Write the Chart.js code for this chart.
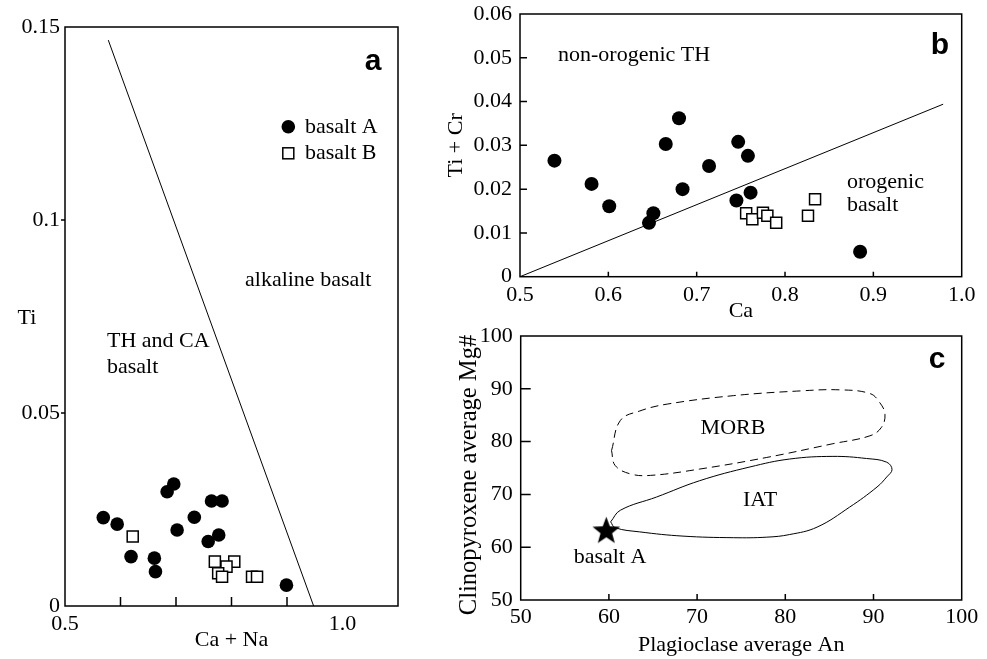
<!DOCTYPE html>
<html><head><meta charset="utf-8">
<script src="https://cdn.jsdelivr.net/npm/chart.js@4.4.1/dist/chart.umd.min.js"></script>
<style>
html,body{margin:0;padding:0;background:#fff;}
#wrap{position:relative;width:987px;height:659px;overflow:hidden;background:#fff;}
canvas{position:absolute;}
</style></head><body>
<div id="wrap">
<canvas id="ca" width="430" height="659" style="left:0;top:0"></canvas>
<canvas id="cb" width="557" height="330" style="left:430px;top:0"></canvas>
<canvas id="cc" width="557" height="339" style="left:430px;top:320px"></canvas>
</div>
<script>
// ---------- Panel a: Ti vs Ca + Na ----------
const aBasaltA_caNa = [0.569,0.594,0.619,0.661,0.663,0.684,0.696,0.702,0.733,0.764,0.783,0.758,0.777,0.899];
const aBasaltA_ti   = [0.0229,0.0212,0.0128,0.0124,0.0089,0.0296,0.0316,0.0197,0.0230,0.0272,0.0272,0.0167,0.0184,0.0054];
const aBasaltB_caNa = [0.622,0.770,0.805,0.791,0.776,0.783,0.837,0.846];
const aBasaltB_ti   = [0.0180,0.0115,0.0115,0.0102,0.0085,0.0076,0.0076,0.0076];
const aBoundary_x = [0.578,0.948];
const aBoundary_y = [0.1466,0];
const aXTicks = [0.5,0.6,0.7,0.8,0.9,1.0,1.1];
const aXLabels = {"0.5":"0.5","1.0":"1.0"};
const aYTicks = [0,0.05,0.1,0.15];

// ---------- Panel b: Ti + Cr vs Ca ----------
const bBasaltA_ca   = [0.539,0.581,0.601,0.646,0.651,0.665,0.680,0.684,0.714,0.747,0.758,0.745,0.761,0.885];
const bBasaltA_tiCr = [0.0265,0.0212,0.0161,0.0123,0.0145,0.0303,0.0362,0.0200,0.0253,0.0308,0.0276,0.0174,0.0192,0.0057];
const bBasaltB_ca   = [0.756,0.763,0.775,0.780,0.790,0.826,0.834];
const bBasaltB_tiCr = [0.0145,0.0131,0.0146,0.0139,0.0123,0.0139,0.0177];
const bBoundary_x = [0.5,0.979];
const bBoundary_y = [0,0.0394];

// ---------- Panel c: Cpx Mg# vs Plag An ----------
const morb_an = [60.3,61.3,63.5,66.6,74.1,81.7,86.2,89.6,90.7,91.3,90.9,89.6,85.4,77.9,70.3,64.7,62.4,60.7,60.3];
const morb_mg = [78.3,84.0,85.8,87.1,88.7,89.6,89.8,89.1,87.4,85.2,82.7,81.1,79.6,77.0,74.8,73.6,73.9,75.5,78.3];
const iat_an = [60.2,61.3,65.4,70.3,76.0,80.5,85.4,89.2,91.5,92.1,91.5,90.4,87.3,83.6,80.5,77.9,74.1,68.4,63.5,60.7,60.2];
const iat_mg = [64.8,67.0,69.5,72.6,75.2,76.7,77.2,76.8,76.1,74.7,73.3,71.4,67.6,63.8,62.4,61.9,61.8,62.1,62.9,63.7,64.8];
const starA_an = [59.7];
const starA_mg = [63.3];

const SERIF = "'Liberation Serif','Times New Roman',serif";
const SANS = "'Liberation Sans',Arial,sans-serif";
const zip = (xs, ys) => xs.map((x, i) => ({x, y: ys[i]}));

function fixAxis(size, vertical) {
  return function(s) {
    if (vertical) s.width = size; else s.height = size;
    s.paddingTop = 0; s.paddingBottom = 0; s.paddingLeft = 0; s.paddingRight = 0;
  };
}

function text(ctx, str, x, y, opts) {
  ctx.save();
  ctx.font = (opts && opts.font) || ("22px " + SERIF);
  ctx.fillStyle = '#000';
  ctx.textAlign = (opts && opts.align) || 'left';
  ctx.textBaseline = 'middle';
  if (opts && opts.rotate) {
    ctx.translate(x, y);
    ctx.rotate(opts.rotate);
    ctx.fillText(str, 0, 0);
  } else {
    ctx.fillText(str, x, y);
  }
  ctx.restore();
}

function frameAndTicks(chart, spec) {
  const ctx = chart.ctx, ca = chart.chartArea;
  const xs = chart.scales.x, ys = chart.scales.y;
  ctx.save();
  ctx.strokeStyle = '#000';
  ctx.lineWidth = 1.5;
  ctx.strokeRect(ca.left, ca.top, ca.right - ca.left, ca.bottom - ca.top);
  ctx.beginPath();
  spec.xTicks.forEach(v => {
    const px = xs.getPixelForValue(v);
    ctx.moveTo(px, ca.bottom);
    ctx.lineTo(px, ca.bottom + spec.xLen);
  });
  spec.yTicks.forEach(v => {
    const py = ys.getPixelForValue(v);
    ctx.moveTo(ca.left, py);
    ctx.lineTo(ca.left + spec.yLen, py);
  });
  ctx.stroke();
  ctx.restore();
}

function tickFont() { return {family: SERIF, size: 22}; }

// ---------- Chart a ----------
new Chart(document.getElementById('ca'), {
  type: 'scatter',
  data: {
    datasets: [
      {label: 'basalt A', data: zip(aBasaltA_caNa, aBasaltA_ti), pointStyle: 'circle', pointRadius: 6.8,
       backgroundColor: '#000', borderColor: '#000', borderWidth: 0, order: 0},
      {label: 'basalt B', data: zip(aBasaltB_caNa, aBasaltB_ti), pointStyle: 'rect', pointRadius: 7.8,
       backgroundColor: '#fff', borderColor: '#000', borderWidth: 1.5, order: 1},
      {label: 'boundary', data: zip(aBoundary_x, aBoundary_y), showLine: true, pointRadius: 0,
       borderColor: '#000', borderWidth: 1, order: 2}
    ]
  },
  options: {
    responsive: false, animation: false, events: [],
    layout: {padding: {left: 0, top: 27, right: 32, bottom: 0}},
    plugins: {legend: {display: false}, tooltip: {enabled: false}},
    scales: {
      x: {
        type: 'linear', min: 0.5, max: 1.1,
        afterFit: fixAxis(53, false),
        afterBuildTicks: s => { s.ticks = aXTicks.map(v => ({value: v})); },
        grid: {display: false, drawTicks: false}, border: {display: false},
        ticks: {autoSkip: false, maxRotation: 0, padding: 5, color: '#000', font: tickFont(),
          callback: v => aXLabels[v.toFixed(1)] || ''},
        title: {display: true, text: 'Ca + Na', color: '#000', font: {family: SERIF, size: 22}, padding: {top: 0, bottom: 5.8}}
      },
      y: {
        type: 'linear', min: 0, max: 0.15,
        afterFit: fixAxis(65, true),
        afterBuildTicks: s => { s.ticks = aYTicks.map(v => ({value: v})); },
        grid: {display: false, drawTicks: false}, border: {display: false},
        ticks: {padding: 5, color: '#000', font: tickFont(), callback: v => String(+v.toFixed(2))}
      }
    }
  },
  plugins: [{
    id: 'decorA',
    afterDraw(chart) {
      const ctx = chart.ctx, ca = chart.chartArea;
      const ys = chart.scales.y;
      frameAndTicks(chart, {xTicks: [0.6,0.7,0.8,0.9], xLen: -9, yTicks: [], yLen: 0});
      ctx.save();
      ctx.lineWidth = 1.5; ctx.strokeStyle = '#000';
      ctx.beginPath();
      [0.05, 0.1].forEach(v => { const py = ys.getPixelForValue(v); ctx.moveTo(ca.left - 4, py); ctx.lineTo(ca.left, py); });
      ctx.stroke();
      // legend
      ctx.fillStyle = '#000';
      ctx.beginPath(); ctx.arc(288.3, 126.7, 6.8, 0, Math.PI * 2); ctx.fill();
      ctx.fillStyle = '#fff';
      ctx.fillRect(282.8, 147.8, 11, 11);
      ctx.strokeRect(282.8, 147.8, 11, 11);
      ctx.restore();
      text(ctx, 'basalt A', 305, 127);
      text(ctx, 'basalt B', 305, 153.5);
      text(ctx, 'a', 373, 62, {font: 'bold 30px ' + SANS, align: 'center'});
      text(ctx, 'alkaline basalt', 245, 280);
      text(ctx, 'TH and CA', 107, 341);
      text(ctx, 'basalt', 107, 367);
      text(ctx, 'Ti', 27, 318, {align: 'center'});
    }
  }]
});

// ---------- Chart b ----------
new Chart(document.getElementById('cb'), {
  type: 'scatter',
  data: {
    datasets: [
      {label: 'basalt A', data: zip(bBasaltA_ca, bBasaltA_tiCr), pointStyle: 'circle', pointRadius: 7,
       backgroundColor: '#000', borderColor: '#000', borderWidth: 0, order: 0},
      {label: 'basalt B', data: zip(bBasaltB_ca, bBasaltB_tiCr), pointStyle: 'rect', pointRadius: 7.8,
       backgroundColor: '#fff', borderColor: '#000', borderWidth: 1.5, order: 1},
      {label: 'boundary', data: zip(bBoundary_x, bBoundary_y), showLine: true, pointRadius: 0,
       borderColor: '#000', borderWidth: 1, order: 2}
    ]
  },
  options: {
    responsive: false, animation: false, events: [],
    layout: {padding: {left: 0, top: 14, right: 25.3, bottom: 0}},
    plugins: {legend: {display: false}, tooltip: {enabled: false}},
    scales: {
      x: {
        type: 'linear', min: 0.5, max: 1.0,
        afterFit: fixAxis(53.3, false),
        grid: {display: false, drawTicks: false}, border: {display: false},
        ticks: {stepSize: 0.1, autoSkip: false, maxRotation: 0, padding: 5, color: '#000', font: tickFont(),
          callback: v => v.toFixed(1)},
        title: {display: true, text: 'Ca', color: '#000', font: {family: SERIF, size: 22}, padding: {top: 0, bottom: 5.1}}
      },
      y: {
        type: 'linear', min: 0, max: 0.06,
        afterFit: fixAxis(90, true),
        grid: {display: false, drawTicks: false}, border: {display: false},
        ticks: {stepSize: 0.01, padding: 8, color: '#000', font: tickFont(),
          callback: v => (Math.abs(v) < 1e-9 ? '0' : v.toFixed(2))},
        title: {display: true, text: 'Ti + Cr', color: '#000', font: {family: SERIF, size: 22}, padding: {top: 13.5, bottom: 0}}
      }
    }
  },
  plugins: [{
    id: 'decorB',
    afterDraw(chart) {
      const ctx = chart.ctx;
      frameAndTicks(chart, {xTicks: [0.6,0.7,0.8,0.9], xLen: -5, yTicks: [0.01,0.02,0.03,0.04,0.05], yLen: 7});
      text(ctx, 'b', 510, 46, {font: 'bold 30px ' + SANS, align: 'center'});
      text(ctx, 'non-orogenic TH', 128, 55);
      text(ctx, 'orogenic', 417, 182);
      text(ctx, 'basalt', 417, 205);
    }
  }]
});

// ---------- Chart c ----------
function makeStar(r) {
  const c = document.createElement('canvas');
  const s = Math.ceil(r * 2 + 2);
  c.width = s; c.height = s;
  const g = c.getContext('2d');
  g.fillStyle = '#000';
  g.beginPath();
  for (let i = 0; i < 10; i++) {
    const rad = i % 2 === 0 ? r : r * 0.42;
    const ang = -Math.PI / 2 + i * Math.PI / 5;
    const px = s / 2 + rad * Math.cos(ang), py = s / 2 + 1.5 + rad * Math.sin(ang);
    if (i === 0) g.moveTo(px, py); else g.lineTo(px, py);
  }
  g.closePath();
  g.fill();
  return c;
}

new Chart(document.getElementById('cc'), {
  type: 'scatter',
  data: {
    datasets: [
      {label: 'basalt A', data: zip(starA_an, starA_mg), pointStyle: makeStar(14.5), pointRadius: 15, order: 0},
      {label: 'MORB', data: zip(morb_an, morb_mg), showLine: true, pointRadius: 0, tension: 0.4,
       borderColor: '#000', borderWidth: 1, borderDash: [8, 5], order: 1},
      {label: 'IAT', data: zip(iat_an, iat_mg), showLine: true, pointRadius: 0, tension: 0.4,
       borderColor: '#000', borderWidth: 1, order: 2}
    ]
  },
  options: {
    responsive: false, animation: false, events: [],
    layout: {padding: {left: 0, top: 15, right: 25.3, bottom: 0}},
    plugins: {legend: {display: false}, tooltip: {enabled: false}},
    scales: {
      x: {
        type: 'linear', min: 50, max: 100,
        afterFit: fixAxis(59, false),
        grid: {display: false, drawTicks: false}, border: {display: false},
        ticks: {stepSize: 10, autoSkip: false, maxRotation: 0, padding: 4, color: '#000', font: tickFont()},
        title: {display: true, text: 'Plagioclase average An', color: '#000', font: {family: SERIF, size: 22}, padding: {top: 0, bottom: 0.8}}
      },
      y: {
        type: 'linear', min: 50, max: 100,
        afterFit: fixAxis(90.7, true),
        grid: {display: false, drawTicks: false}, border: {display: false},
        ticks: {stepSize: 10, padding: 8, color: '#000', font: tickFont()}
      }
    }
  },
  plugins: [{
    id: 'decorC',
    afterDraw(chart) {
      const ctx = chart.ctx;
      frameAndTicks(chart, {xTicks: [60,70,80,90], xLen: -6, yTicks: [60,70,80,90], yLen: 10});
      text(ctx, 'Clinopyroxene average Mg#', 40, 155, {font: '24.5px ' + SERIF, align: 'center', rotate: -Math.PI / 2});
      text(ctx, 'c', 507, 40, {font: 'bold 30px ' + SANS, align: 'center'});
      text(ctx, 'MORB', 303, 108, {align: 'center'});
      text(ctx, 'IAT', 330, 180, {align: 'center'});
      text(ctx, 'basalt A', 180, 237, {align: 'center'});
    }
  }]
});
</script>
</body></html>
